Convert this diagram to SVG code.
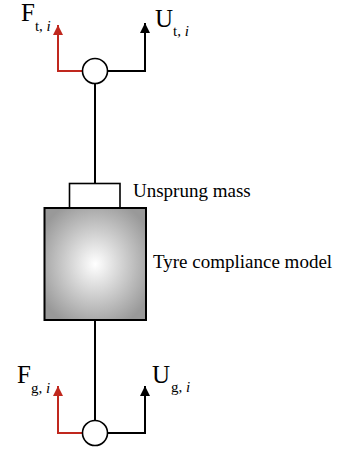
<svg xmlns="http://www.w3.org/2000/svg" width="338" height="449" viewBox="0 0 338 449">
<style>
.ln{fill:none;stroke:#000;stroke-width:2}
.rd{fill:none;stroke:#c0281e;stroke-width:2}
.t{font-family:"Liberation Serif",serif;fill:#000}
.big{font-size:25px}
.sub{font-size:15px}
.lab{font-size:19px}
</style>
<defs>
<marker id="ab" viewBox="0 0 10 10" refX="10" refY="5" markerWidth="10" markerHeight="11" markerUnits="userSpaceOnUse" orient="auto"><path d="M0,0 L10,5 L0,10 z" fill="#000"/></marker>
<marker id="ar" viewBox="0 0 10 10" refX="10" refY="5" markerWidth="10" markerHeight="11" markerUnits="userSpaceOnUse" orient="auto"><path d="M0,0 L10,5 L0,10 z" fill="#c0281e"/></marker>
<radialGradient id="g" cx="0.5" cy="0.5" r="0.6">
<stop offset="0" stop-color="#fff"/>
<stop offset="1" stop-color="#999"/>
</radialGradient>
</defs>
<g id="connectors">
<path class="rd" d="M82.5,71 H58 V25" marker-end="url(#ar)"/>
<path class="ln" d="M107.5,71 H145 V23" marker-end="url(#ab)"/>
<path class="ln" d="M95,83.5 V183"/>
<path class="ln" d="M95,320 V420.5"/>
<path class="rd" d="M82.5,433 H58 V386" marker-end="url(#ar)"/>
<path class="ln" d="M107.5,433 H145 V386" marker-end="url(#ab)"/>
</g>
<g id="top-port">
<circle cx="95" cy="71" r="12.5" fill="#fff" stroke="#000" stroke-width="1.6"/>
</g>
<g id="bottom-port">
<circle cx="95" cy="433" r="12.5" fill="#fff" stroke="#000" stroke-width="1.6"/>
</g>
<g id="unsprung-mass">
<rect x="69.5" y="183.5" width="50.5" height="24.5" fill="#fff" stroke="#000" stroke-width="1.6"/>
<text class="t lab" x="133" y="197">Unsprung mass</text>
</g>
<g id="tyre-model">
<rect x="44.5" y="208" width="101.5" height="112" fill="url(#g)" stroke="#000" stroke-width="2"/>
<text class="t lab" x="153" y="268">Tyre compliance model</text>
</g>
<g id="labels">
<text class="t" x="21" y="21"><tspan class="big">F</tspan><tspan class="sub" y="31" dx="0">t, </tspan><tspan class="sub" font-style="italic">i</tspan></text>
<text class="t" x="155" y="27"><tspan class="big">U</tspan><tspan class="sub" y="35.5" dx="0">t, </tspan><tspan class="sub" font-style="italic">i</tspan></text>
<text class="t" x="17" y="383"><tspan class="big">F</tspan><tspan class="sub" y="393" dx="0">g, </tspan><tspan class="sub" font-style="italic">i</tspan></text>
<text class="t" x="152" y="383"><tspan class="big">U</tspan><tspan class="sub" y="392" dx="1">g, </tspan><tspan class="sub" font-style="italic">i</tspan></text>
</g>
</svg>
